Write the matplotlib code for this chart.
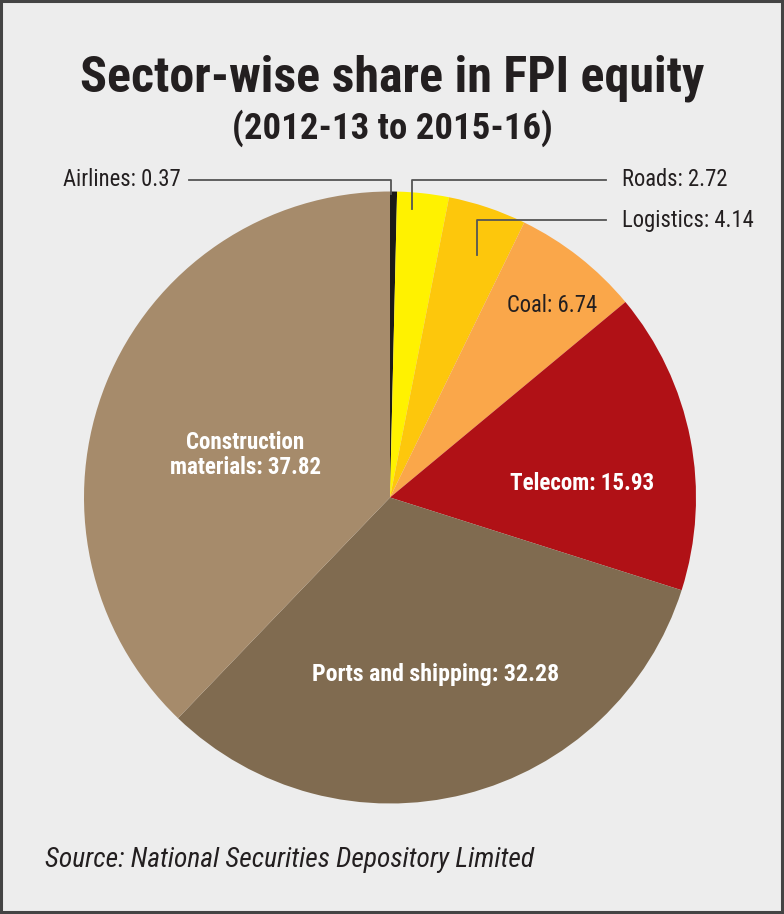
import matplotlib
matplotlib.use("Agg")
import matplotlib.pyplot as plt
from matplotlib import font_manager
from matplotlib.patches import Rectangle

# data, clockwise from the top
sectors = ["Airlines", "Roads", "Logistics", "Coal", "Telecom",
           "Ports and shipping", "Construction materials"]
shares = [0.37, 2.72, 4.14, 6.74, 15.93, 32.28, 37.82]
colors = ["#1c1a18", "#fff200", "#fdc70c", "#faa74a", "#b01116",
          "#806b50", "#a68b6b"]

title = "Sector-wise share in FPI equity"
subtitle = "(2012-13 to 2015-16)"
source = "Source: National Securities Depository Limited"


def pick_font(names):
    for n in names:
        try:
            font_manager.findfont(n, fallback_to_default=False)
            return n
        except Exception:
            pass
    return "DejaVu Sans"


narrow = pick_font(["Liberation Sans Narrow", "Roboto Condensed", "Roboto", "Liberation Sans"])

W, H = 784, 914
fig = plt.figure(figsize=(W / 100, H / 100), dpi=100)
fig.patch.set_facecolor("#ededed")

# pie centre and radius in pixels
cx, cy, r = 390, 497.5, 306
ax = fig.add_axes([(cx - r) / W, (H - cy - r) / H, 2 * r / W, 2 * r / H])
ax.pie(shares, colors=colors, startangle=90, counterclock=False,
       wedgeprops=dict(linewidth=0))
ax.set_xlim(-1, 1)
ax.set_ylim(-1, 1)
ax.set_aspect("equal")
ax.axis("off")


def px(x, y):
    return ((x - cx) / r, (cy - y) / r)


def lbl(i):
    return "%s: %.2f" % (sectors[i], shares[i])


# leader lines
lc = "#555555"
for pts in ([(189, 180), (391, 180), (391, 194)],
            [(412, 209), (412, 180), (606, 180)],
            [(477, 255), (477, 220), (606, 220)]):
    xs, ys = zip(*[px(a, b) for a, b in pts])
    ax.plot(xs, ys, color=lc, lw=1.3, clip_on=False)

fs = 16.3
dark = "#231f20"
ax.text(*px(181, 180), lbl(0), ha="right", va="center", fontsize=fs,
        family=narrow, color=dark, clip_on=False)
ax.text(*px(622, 180), lbl(1), ha="left", va="center", fontsize=fs,
        family=narrow, color=dark, clip_on=False)
ax.text(*px(622, 220), lbl(2), ha="left", va="center", fontsize=fs,
        family=narrow, color=dark, clip_on=False)
ax.text(*px(552, 306), lbl(3), ha="center", va="center", fontsize=fs,
        family=narrow, color=dark)

bs = 16.6
ax.text(*px(582, 484), lbl(4), ha="center", va="center", fontsize=bs,
        family=narrow, weight="bold", color="white")
ax.text(*px(436, 674), lbl(5), ha="center", va="center", fontsize=17.2,
        family=narrow, weight="bold", color="white")
ax.text(*px(245, 455), "Construction\nmaterials: %.2f" % shares[6],
        ha="center", va="center", fontsize=bs, family=narrow,
        weight="bold", color="white", linespacing=1.15)

fig.text(392 / W, 1 - 78 / H, title, ha="center", va="center",
         fontsize=36, family=narrow, weight="heavy", color=dark)
fig.text(392 / W, 1 - 128 / H, subtitle, ha="center", va="center",
         fontsize=26.5, family=narrow, weight="heavy", color=dark)
fig.text(45 / W, 1 - 860 / H, source, ha="left", va="center",
         fontsize=19.8, family=narrow, style="italic", color=dark)

# frame
fig.patches.append(Rectangle((1 / W, 2 / H), (W - 3) / W, (H - 3) / H,
                             transform=fig.transFigure, fill=False,
                             edgecolor="#444444", lw=2.2))

fig.savefig("out.png", dpi=100, facecolor=fig.get_facecolor())
